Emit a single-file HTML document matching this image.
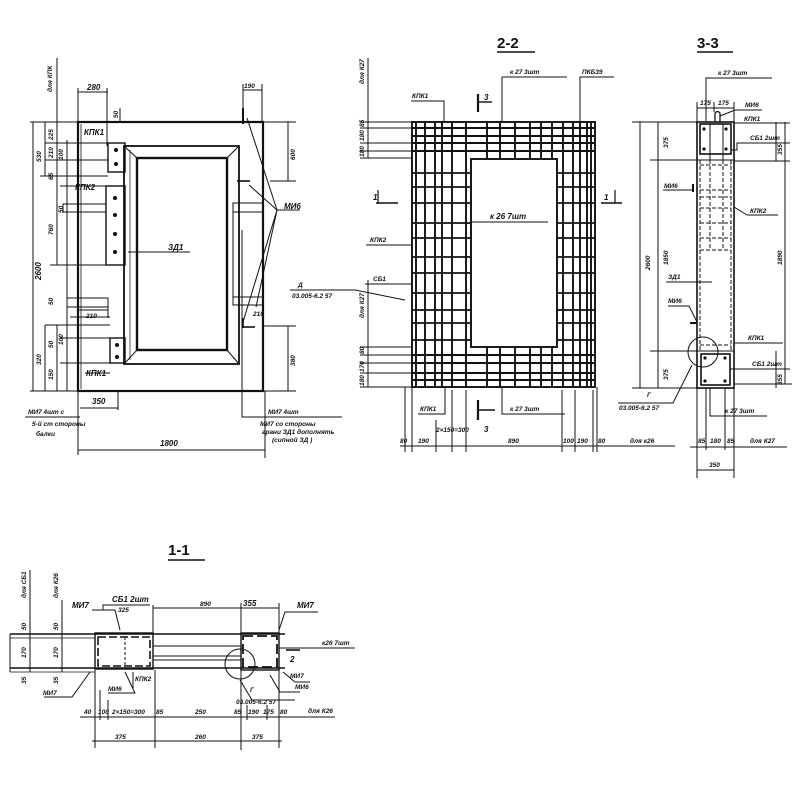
<!DOCTYPE html>
<html><head><meta charset="utf-8"><style>
html,body{margin:0;padding:0;background:#fff;}
svg{display:block;}
text{font-family:"Liberation Sans",sans-serif;font-style:italic;font-weight:bold;fill:#111;}
.t{font-size:8px;}
.s{font-size:6.5px;}
.h{font-size:15px;font-style:normal;}
</style></head><body>
<svg width="800" height="800" viewBox="0 0 800 800" xmlns="http://www.w3.org/2000/svg">
<rect width="800" height="800" fill="#fff"/>
<g stroke="#111" fill="none" stroke-width="1">

<!-- ============ VIEW 1 (front) ============ -->
<rect x="78" y="122" width="185" height="269" stroke-width="2.2"/>
<line x1="81" y1="124" x2="81" y2="389" stroke-width="0.8"/>
<rect x="124" y="146" width="115" height="218" stroke-width="1.8"/>
<rect x="137" y="158" width="90" height="192" stroke-width="2.4"/>
<line x1="124" y1="146" x2="137" y2="158"/><line x1="239" y1="146" x2="227" y2="158"/>
<line x1="124" y1="364" x2="137" y2="350"/><line x1="239" y1="364" x2="227" y2="350"/>
<line x1="130" y1="150" x2="130" y2="360" stroke-width="0.7"/>
<!-- plates -->
<rect x="108" y="143" width="17" height="29" stroke-width="1.4"/>
<rect x="106" y="186" width="19" height="79" stroke-width="1.4"/>
<rect x="110" y="338" width="15" height="25" stroke-width="1.4"/>
<g fill="#111" stroke="none">
<circle cx="116" cy="150" r="2"/><circle cx="116" cy="164" r="2"/>
<circle cx="115" cy="198" r="2"/><circle cx="115" cy="215" r="2"/><circle cx="115" cy="234" r="2"/><circle cx="115" cy="252" r="2"/>
<circle cx="117" cy="345" r="2"/><circle cx="117" cy="357" r="2"/>
</g>
<!-- bars -->
<rect x="63" y="204" width="43" height="8"/>
<rect x="67" y="298" width="41" height="9"/>
<rect x="233" y="203" width="30" height="9"/>
<rect x="233" y="297" width="30" height="8"/>
<line x1="233" y1="203" x2="233" y2="305"/>
<line x1="237" y1="181" x2="250" y2="181" stroke-width="1.6"/>
<line x1="243" y1="108" x2="243" y2="124" stroke-width="2"/>
<line x1="243" y1="318" x2="243" y2="328" stroke-width="1.6"/>
<line x1="243" y1="327" x2="255" y2="327" stroke-width="1.6"/>
<!-- МИ6 leaders -->
<polyline points="247,118 277,210"/><polyline points="249,185 277,210"/>
<polyline points="256,307 277,210"/><polyline points="243,322 277,210"/>
<line x1="277" y1="210" x2="300" y2="210"/>
<!-- ЗД1 leader -->
<line x1="128" y1="252" x2="190" y2="252"/>
<!-- top dims -->
<line x1="78" y1="92" x2="108" y2="92"/><line x1="78" y1="88" x2="78" y2="122"/><line x1="107" y1="88" x2="107" y2="146"/>
<line x1="243" y1="90" x2="262" y2="90"/><line x1="243" y1="84" x2="243" y2="108"/><line x1="262" y1="84" x2="262" y2="122"/>
<line x1="120" y1="108" x2="120" y2="122"/>
<!-- right dims -->
<line x1="263" y1="122" x2="296" y2="122"/><line x1="270" y1="181" x2="296" y2="181"/><line x1="288" y1="122" x2="288" y2="181"/>
<line x1="263" y1="326" x2="296" y2="326"/><line x1="263" y1="391" x2="296" y2="391"/><line x1="288" y1="326" x2="288" y2="391"/>
<!-- left dims -->
<line x1="57" y1="58" x2="57" y2="130"/>
<line x1="30" y1="122" x2="78" y2="122"/><line x1="30" y1="391" x2="78" y2="391"/>
<line x1="33" y1="122" x2="33" y2="391"/>
<line x1="45" y1="122" x2="45" y2="176"/><line x1="57" y1="122" x2="57" y2="265"/><line x1="67" y1="140" x2="67" y2="391"/>
<line x1="45" y1="143" x2="108" y2="143"/><line x1="45" y1="160" x2="108" y2="160"/>
<line x1="40" y1="176" x2="108" y2="176"/><line x1="60" y1="186" x2="106" y2="186"/>
<line x1="50" y1="265" x2="106" y2="265"/>
<line x1="45" y1="325" x2="110" y2="325"/><line x1="45" y1="325" x2="45" y2="391"/>
<line x1="57" y1="325" x2="57" y2="391"/><line x1="60" y1="338" x2="110" y2="338"/><line x1="60" y1="363" x2="110" y2="363"/>
<line x1="70" y1="317" x2="110" y2="317"/><line x1="78" y1="310" x2="108" y2="310"/><line x1="108" y1="305" x2="108" y2="318"/>
<line x1="85" y1="373" x2="110" y2="373"/>
<!-- bottom -->
<line x1="78" y1="391" x2="78" y2="455"/><line x1="265" y1="391" x2="265" y2="458"/>
<line x1="78" y1="450" x2="265" y2="450"/>
<line x1="118" y1="390" x2="118" y2="410"/><line x1="80" y1="408" x2="118" y2="408"/>
<line x1="25" y1="417" x2="80" y2="417"/>
<polyline points="242,230 242,417 342,417"/>

<!-- ============ VIEW 2-2 ============ -->
<line x1="497" y1="52" x2="535" y2="52" stroke-width="1.5"/>
<g stroke-width="1.9">
<rect x="412" y="122" width="183" height="265"/>
<rect x="471" y="159" width="86" height="188"/>
<line x1="416" y1="122" x2="416" y2="387"/><line x1="425" y1="122" x2="425" y2="387"/>
<line x1="435" y1="122" x2="435" y2="387"/><line x1="442" y1="122" x2="442" y2="387"/>
<line x1="452" y1="122" x2="452" y2="387"/><line x1="466" y1="122" x2="466" y2="387"/>
<line x1="563" y1="122" x2="563" y2="387"/><line x1="573" y1="122" x2="573" y2="387"/>
<line x1="580" y1="122" x2="580" y2="387"/><line x1="587" y1="122" x2="587" y2="387"/>
<line x1="591" y1="122" x2="591" y2="387"/>
<line x1="487" y1="122" x2="487" y2="159"/><line x1="500" y1="122" x2="500" y2="159"/>
<line x1="515" y1="122" x2="515" y2="159"/><line x1="530" y1="122" x2="530" y2="159"/>
<line x1="541" y1="122" x2="541" y2="159"/><line x1="552" y1="122" x2="552" y2="159"/>
<line x1="487" y1="347" x2="487" y2="387"/><line x1="500" y1="347" x2="500" y2="387"/>
<line x1="515" y1="347" x2="515" y2="387"/><line x1="530" y1="347" x2="530" y2="387"/>
<line x1="541" y1="347" x2="541" y2="387"/><line x1="552" y1="347" x2="552" y2="387"/>
<line x1="412" y1="128" x2="595" y2="128"/><line x1="412" y1="136" x2="595" y2="136"/>
<line x1="412" y1="143" x2="595" y2="143"/><line x1="412" y1="151" x2="595" y2="151"/>
<line x1="412" y1="355" x2="595" y2="355"/><line x1="412" y1="363" x2="595" y2="363"/>
<line x1="412" y1="373" x2="595" y2="373"/><line x1="412" y1="380" x2="595" y2="380"/>
</g>
<g stroke-width="1.7">
<line x1="412" y1="173" x2="471" y2="173"/><line x1="557" y1="173" x2="595" y2="173"/>
<line x1="412" y1="187" x2="471" y2="187"/><line x1="557" y1="187" x2="595" y2="187"/>
<line x1="412" y1="203" x2="471" y2="203"/><line x1="557" y1="203" x2="595" y2="203"/>
<line x1="412" y1="223" x2="471" y2="223"/><line x1="557" y1="223" x2="595" y2="223"/>
<line x1="412" y1="238" x2="471" y2="238"/><line x1="557" y1="238" x2="595" y2="238"/>
<line x1="412" y1="257" x2="471" y2="257"/><line x1="557" y1="257" x2="595" y2="257"/>
<line x1="412" y1="273" x2="471" y2="273"/><line x1="557" y1="273" x2="595" y2="273"/>
<line x1="412" y1="293" x2="471" y2="293"/><line x1="557" y1="293" x2="595" y2="293"/>
<line x1="412" y1="310" x2="471" y2="310"/><line x1="557" y1="310" x2="595" y2="310"/>
<line x1="412" y1="323" x2="471" y2="323"/><line x1="557" y1="323" x2="595" y2="323"/>
<line x1="412" y1="340" x2="471" y2="340"/><line x1="557" y1="340" x2="595" y2="340"/>
</g>
<!-- 2-2 leaders -->
<polyline points="502,122 502,77 567,77"/>
<polyline points="580,125 580,77 614,77"/>
<polyline points="411,101 444,101 444,122"/>
<line x1="470" y1="222" x2="548" y2="222"/>
<line x1="366" y1="245" x2="412" y2="245"/>
<line x1="365" y1="284" x2="412" y2="284"/>
<polyline points="290,290 355,290 405,300"/>
<polyline points="502,387 502,414 565,414"/>
<polyline points="418,414 445,414 445,387"/>
<!-- section marks -->
<line x1="478" y1="94" x2="478" y2="112" stroke-width="2.2"/><line x1="478" y1="102" x2="492" y2="102" stroke-width="1.4"/>
<line x1="478" y1="400" x2="478" y2="420" stroke-width="2.2"/><line x1="478" y1="410" x2="495" y2="410" stroke-width="1.4"/>
<line x1="376" y1="203" x2="398" y2="203" stroke-width="1.6"/><line x1="378" y1="190" x2="378" y2="203" stroke-width="1.2"/>
<line x1="601" y1="203" x2="622" y2="203" stroke-width="1.6"/><line x1="615" y1="190" x2="615" y2="203" stroke-width="1.2"/>
<!-- 2-2 left dims -->
<line x1="368" y1="58" x2="368" y2="158"/>
<line x1="360" y1="122" x2="412" y2="122"/><line x1="360" y1="128" x2="412" y2="128"/>
<line x1="360" y1="143" x2="412" y2="143"/><line x1="360" y1="151" x2="412" y2="151"/>
<line x1="360" y1="158" x2="412" y2="158"/>
<line x1="368" y1="280" x2="368" y2="387"/>
<line x1="360" y1="347" x2="412" y2="347"/><line x1="360" y1="355" x2="412" y2="355"/>
<line x1="360" y1="363" x2="412" y2="363"/><line x1="360" y1="373" x2="412" y2="373"/>
<line x1="360" y1="387" x2="412" y2="387"/>
<!-- 2-2 bottom dims -->
<line x1="400" y1="446" x2="675" y2="446"/>
<line x1="405" y1="387" x2="405" y2="452"/><line x1="412" y1="387" x2="412" y2="452"/>
<line x1="436" y1="420" x2="436" y2="452"/><line x1="452" y1="390" x2="452" y2="452"/>
<line x1="466" y1="390" x2="466" y2="452"/><line x1="562" y1="390" x2="562" y2="452"/>
<line x1="575" y1="390" x2="575" y2="452"/><line x1="593" y1="390" x2="593" y2="452"/>
<line x1="597" y1="387" x2="597" y2="452"/>

<!-- ============ VIEW 3-3 ============ -->
<line x1="697" y1="52" x2="733" y2="52" stroke-width="1.5"/>
<rect x="697" y="122" width="37" height="266" stroke-width="1.6"/>
<rect x="700" y="124" width="31" height="30" stroke-width="1.6"/>
<line x1="710" y1="124" x2="710" y2="160"/><line x1="723" y1="124" x2="723" y2="160"/>
<path d="M715,122 L715,113 Q717.5,110 720,113 L720,122" stroke-width="1.3"/>
<rect x="701" y="354" width="29" height="31" stroke-width="1.6"/>
<line x1="697" y1="160" x2="734" y2="160"/>
<line x1="697" y1="351" x2="734" y2="351"/>
<g stroke-dasharray="4,2">
<line x1="700" y1="160" x2="700" y2="350"/><line x1="731" y1="160" x2="731" y2="350"/>
<line x1="710" y1="160" x2="710" y2="250"/><line x1="723" y1="160" x2="723" y2="250"/>
<line x1="700" y1="165" x2="731" y2="165"/><line x1="700" y1="190" x2="731" y2="190"/>
<line x1="700" y1="197" x2="731" y2="197"/><line x1="700" y1="208" x2="731" y2="208"/>
<line x1="700" y1="223" x2="731" y2="223"/><line x1="700" y1="238" x2="731" y2="238"/>
<line x1="700" y1="250" x2="731" y2="250"/>
<line x1="700" y1="345" x2="731" y2="345"/>
</g>
<g fill="#111" stroke="none">
<circle cx="704" cy="129" r="1.6"/><circle cx="726" cy="129" r="1.6"/><circle cx="704" cy="149" r="1.6"/><circle cx="726" cy="149" r="1.6"/>
<circle cx="705" cy="358" r="1.6"/><circle cx="725" cy="358" r="1.6"/><circle cx="705" cy="381" r="1.6"/><circle cx="725" cy="381" r="1.6"/>
</g>
<circle cx="703" cy="352" r="15"/>
<polyline points="706,122 706,78 772,78"/>
<line x1="697" y1="108" x2="734" y2="108"/><line x1="697" y1="102" x2="697" y2="122"/>
<line x1="714" y1="102" x2="714" y2="112"/><line x1="734" y1="102" x2="734" y2="122"/>
<polyline points="720,116 735,110 762,110"/>
<line x1="734" y1="123" x2="790" y2="123"/>
<polyline points="731,150 737,150 737,143 790,143"/>
<line x1="734" y1="161" x2="790" y2="161"/>
<line x1="734" y1="207" x2="747" y2="215"/><line x1="747" y1="215" x2="778" y2="215"/>
<line x1="734" y1="343" x2="783" y2="343"/>
<line x1="730" y1="369" x2="790" y2="369"/>
<line x1="663" y1="190" x2="693" y2="190"/><line x1="693" y1="184" x2="693" y2="192" stroke-width="2"/>
<line x1="666" y1="282" x2="712" y2="282"/>
<polyline points="668,306 689,306 697,322"/>
<line x1="690" y1="323" x2="697" y2="323" stroke-width="2"/>
<polyline points="618,403 673,403 692,365"/>
<polyline points="710,388 710,416 767,416"/>
<!-- 3-3 dims -->
<line x1="640" y1="122" x2="640" y2="388"/><line x1="632" y1="122" x2="697" y2="122"/>
<line x1="632" y1="388" x2="697" y2="388"/>
<line x1="658" y1="122" x2="658" y2="388"/>
<line x1="650" y1="160" x2="697" y2="160"/><line x1="650" y1="351" x2="697" y2="351"/>
<line x1="785" y1="122" x2="785" y2="384"/><line x1="776" y1="122" x2="776" y2="161"/>
<line x1="734" y1="384" x2="792" y2="384"/><line x1="776" y1="351" x2="776" y2="388"/>
<line x1="690" y1="447" x2="787" y2="447"/>
<line x1="697" y1="388" x2="697" y2="478"/><line x1="734" y1="388" x2="734" y2="478"/>
<line x1="706" y1="388" x2="706" y2="450"/><line x1="725" y1="388" x2="725" y2="450"/>
<line x1="697" y1="470" x2="734" y2="470"/>

<!-- ============ VIEW 1-1 ============ -->
<line x1="168" y1="560" x2="205" y2="560" stroke-width="1.5"/>
<line x1="10" y1="634" x2="285" y2="634" stroke-width="1.6"/>
<line x1="10" y1="638" x2="95" y2="638" stroke-width="0.8"/>
<line x1="10" y1="668" x2="285" y2="668" stroke-width="1.6"/>
<line x1="10" y1="672" x2="95" y2="672" stroke-width="0.8"/>
<line x1="10" y1="634" x2="10" y2="672"/>
<rect x="95" y="633" width="58" height="36" stroke-width="1.4"/>
<rect x="98" y="637" width="52" height="29" stroke-width="1.6" stroke-dasharray="8,3"/>
<line x1="125" y1="637" x2="125" y2="666" stroke-dasharray="3,2"/>
<line x1="153" y1="646" x2="241" y2="646"/><line x1="153" y1="656" x2="241" y2="656"/>
<line x1="153" y1="660" x2="241" y2="660"/>
<rect x="241" y="633" width="38" height="37" stroke-width="1.4"/>
<rect x="243" y="636" width="34" height="31" stroke-width="1.8" stroke-dasharray="10,4"/>
<circle cx="240" cy="664" r="15"/>
<line x1="62" y1="600" x2="62" y2="672"/><line x1="30" y1="570" x2="30" y2="672"/>
<line x1="28" y1="634" x2="62" y2="634"/>
<!-- 1-1 leaders -->
<polyline points="92,610 115,610 120,630"/>
<polyline points="103,610 103,605 150,605"/>
<line x1="153" y1="608" x2="241" y2="608"/>
<line x1="241" y1="608" x2="279" y2="608"/>
<line x1="153" y1="605" x2="153" y2="633"/><line x1="241" y1="603" x2="241" y2="633"/>
<line x1="279" y1="603" x2="279" y2="633"/>
<polyline points="279,630 285,612 318,612"/>
<line x1="279" y1="648" x2="355" y2="648"/>
<line x1="286" y1="650" x2="300" y2="650" stroke-width="1.6"/>
<polyline points="44,697 72,697 90,672"/>
<polyline points="108,693 135,693 125,672"/>
<line x1="133" y1="672" x2="133" y2="688"/>
<polyline points="283,672 295,682 310,682"/>
<polyline points="270,675 280,692 300,692"/>
<polyline points="240,680 252,700 295,700"/>
<!-- 1-1 dims -->
<line x1="80" y1="717" x2="335" y2="717"/>
<line x1="95" y1="670" x2="95" y2="748"/><line x1="100" y1="690" x2="100" y2="720"/>
<line x1="108" y1="700" x2="108" y2="720"/><line x1="155" y1="670" x2="155" y2="748"/>
<line x1="241" y1="670" x2="241" y2="750"/><line x1="279" y1="670" x2="279" y2="748"/>
<line x1="247" y1="705" x2="247" y2="720"/><line x1="267" y1="705" x2="267" y2="720"/>
<line x1="92" y1="741" x2="282" y2="741"/>
</g>

<!-- ============ TEXT ============ -->
<!-- view1 -->
<text class="t" x="87" y="90">280</text>
<text class="s" x="244" y="88">190</text>
<text class="s" x="118" y="118" transform="rotate(-90 118 118)">50</text>
<text class="t" x="84" y="135">КПК1</text>
<text class="t" x="75" y="190">КПК2</text>
<text class="t" x="168" y="250">ЗД1</text>
<text class="t" x="284" y="209">МИ6</text>
<text class="s" x="86" y="318">210</text>
<text class="s" x="253" y="316">210</text>
<text class="t" x="86" y="376">КПК1</text>
<text class="t" x="92" y="404">350</text>
<text class="t" x="160" y="446">1800</text>
<text class="s" x="28" y="414">МИ7  4шт  с</text>
<text class="s" x="32" y="426">5-й ст стороны</text>
<text class="s" x="36" y="436">балки</text>
<text class="s" x="268" y="414">МИ7   4шт</text>
<text class="s" x="260" y="426">МИ7 со стороны</text>
<text class="s" x="262" y="434">грани  ЗД1 дополнять</text>
<text class="s" x="272" y="442">(сипной  ЗД  )</text>
<text class="s" x="52" y="92" transform="rotate(-90 52 92)">для КПК</text>
<text class="t" x="41" y="280" transform="rotate(-90 41 280)">2600</text>
<text class="s" x="41" y="162" transform="rotate(-90 41 162)">530</text>
<text class="s" x="53" y="140" transform="rotate(-90 53 140)">225</text>
<text class="s" x="53" y="158" transform="rotate(-90 53 158)">210</text>
<text class="s" x="53" y="180" transform="rotate(-90 53 180)">65</text>
<text class="s" x="63" y="160" transform="rotate(-90 63 160)">100</text>
<text class="s" x="63" y="213" transform="rotate(-90 63 213)">50</text>
<text class="s" x="53" y="235" transform="rotate(-90 53 235)">760</text>
<text class="s" x="53" y="305" transform="rotate(-90 53 305)">50</text>
<text class="s" x="41" y="365" transform="rotate(-90 41 365)">320</text>
<text class="s" x="53" y="348" transform="rotate(-90 53 348)">50</text>
<text class="s" x="63" y="345" transform="rotate(-90 63 345)">100</text>
<text class="s" x="53" y="380" transform="rotate(-90 53 380)">150</text>
<text class="s" x="295" y="160" transform="rotate(-90 295 160)">600</text>
<text class="s" x="295" y="366" transform="rotate(-90 295 366)">380</text>

<!-- view 2-2 -->
<text class="h" x="497" y="48">2-2</text>
<text class="s" x="510" y="74">к 27   3шт</text>
<text class="s" x="582" y="74">ПКБ39</text>
<text class="s" x="412" y="98">КПК1</text>
<text class="t" x="484" y="100">3</text>
<text class="t" x="484" y="432">3</text>
<text class="t" x="373" y="200">1</text>
<text class="t" x="604" y="200">1</text>
<text class="t" x="490" y="219">к 26   7шт</text>
<text class="s" x="370" y="242">КПК2</text>
<text class="s" x="373" y="281">СБ1</text>
<text class="s" x="298" y="287">Д</text>
<text class="s" x="292" y="298">03.005-6.2  57</text>
<text class="s" x="420" y="411">КПК1</text>
<text class="s" x="510" y="411">к 27   3шт</text>
<text class="s" x="364" y="84" transform="rotate(-90 364 84)">для К27</text>
<text class="s" x="364" y="318" transform="rotate(-90 364 318)">для К27</text>
<text class="s" x="364" y="127" transform="rotate(-90 364 127)">85</text>
<text class="s" x="364" y="141" transform="rotate(-90 364 141)">180</text>
<text class="s" x="364" y="157" transform="rotate(-90 364 157)">180</text>
<text class="s" x="364" y="354" transform="rotate(-90 364 354)">80</text>
<text class="s" x="364" y="372" transform="rotate(-90 364 372)">170</text>
<text class="s" x="364" y="386" transform="rotate(-90 364 386)">180</text>
<text class="s" x="400" y="443">80</text>
<text class="s" x="418" y="443">190</text>
<text class="s" x="436" y="432">2×150=300</text>
<text class="s" x="508" y="443">890</text>
<text class="s" x="563" y="443">100</text>
<text class="s" x="577" y="443">190</text>
<text class="s" x="598" y="443">80</text>
<text class="s" x="630" y="443">для  к26</text>

<!-- view 3-3 -->
<text class="h" x="697" y="48">3-3</text>
<text class="s" x="718" y="75">к 27   3шт</text>
<text class="s" x="700" y="105">175</text>
<text class="s" x="718" y="105">175</text>
<text class="s" x="745" y="107">МИ6</text>
<text class="s" x="744" y="121">КПК1</text>
<text class="s" x="750" y="140">СБ1  2шт</text>
<text class="s" x="664" y="188">МИ6</text>
<text class="s" x="750" y="213">КПК2</text>
<text class="s" x="668" y="279">ЗД1</text>
<text class="s" x="668" y="303">МИ6</text>
<text class="s" x="748" y="340">КПК1</text>
<text class="s" x="752" y="366">СБ1  2шт</text>
<text class="s" x="647" y="397">Г</text>
<text class="s" x="619" y="410">03.005-6.2  57</text>
<text class="s" x="725" y="413">к 27   3шт</text>
<text class="s" x="698" y="443">85</text>
<text class="s" x="710" y="443">180</text>
<text class="s" x="727" y="443">85</text>
<text class="s" x="750" y="443">для К27</text>
<text class="s" x="709" y="467">350</text>
<text class="s" x="650" y="270" transform="rotate(-90 650 270)">2600</text>
<text class="s" x="668" y="265" transform="rotate(-90 668 265)">1850</text>
<text class="s" x="668" y="148" transform="rotate(-90 668 148)">375</text>
<text class="s" x="668" y="380" transform="rotate(-90 668 380)">375</text>
<text class="s" x="782" y="265" transform="rotate(-90 782 265)">1890</text>
<text class="s" x="782" y="155" transform="rotate(-90 782 155)">355</text>
<text class="s" x="782" y="385" transform="rotate(-90 782 385)">355</text>

<!-- view 1-1 -->
<text class="h" x="168" y="555">1-1</text>
<text class="t" x="112" y="602">СБ1   2шт</text>
<text class="s" x="118" y="612">325</text>
<text class="t" x="72" y="608">МИ7</text>
<text class="s" x="200" y="606">890</text>
<text class="t" x="243" y="606">355</text>
<text class="t" x="297" y="608">МИ7</text>
<text class="s" x="322" y="645">к26  7шт</text>
<text class="t" x="290" y="662">2</text>
<text class="s" x="290" y="678">МИ7</text>
<text class="s" x="295" y="689">МИ6</text>
<text class="s" x="43" y="695">МИ7</text>
<text class="s" x="108" y="691">МИ6</text>
<text class="s" x="135" y="681">КПК2</text>
<text class="s" x="250" y="692">Г</text>
<text class="s" x="236" y="704">03.005-6.2  57</text>
<text class="s" x="308" y="713">для  К26</text>
<text class="s" x="84" y="714">40</text>
<text class="s" x="98" y="714">100</text>
<text class="s" x="112" y="714">2×150=300</text>
<text class="s" x="156" y="714">85</text>
<text class="s" x="195" y="714">250</text>
<text class="s" x="234" y="714">85</text>
<text class="s" x="248" y="714">190</text>
<text class="s" x="263" y="714">175</text>
<text class="s" x="280" y="714">80</text>
<text class="s" x="115" y="739">375</text>
<text class="s" x="195" y="739">260</text>
<text class="s" x="252" y="739">375</text>
<text class="s" x="26" y="598" transform="rotate(-90 26 598)">для СБ1</text>
<text class="s" x="58" y="598" transform="rotate(-90 58 598)">для К26</text>
<text class="s" x="26" y="630" transform="rotate(-90 26 630)">50</text>
<text class="s" x="58" y="630" transform="rotate(-90 58 630)">50</text>
<text class="s" x="26" y="658" transform="rotate(-90 26 658)">170</text>
<text class="s" x="58" y="658" transform="rotate(-90 58 658)">170</text>
<text class="s" x="26" y="684" transform="rotate(-90 26 684)">35</text>
<text class="s" x="58" y="684" transform="rotate(-90 58 684)">35</text>
</svg>
</body></html>
